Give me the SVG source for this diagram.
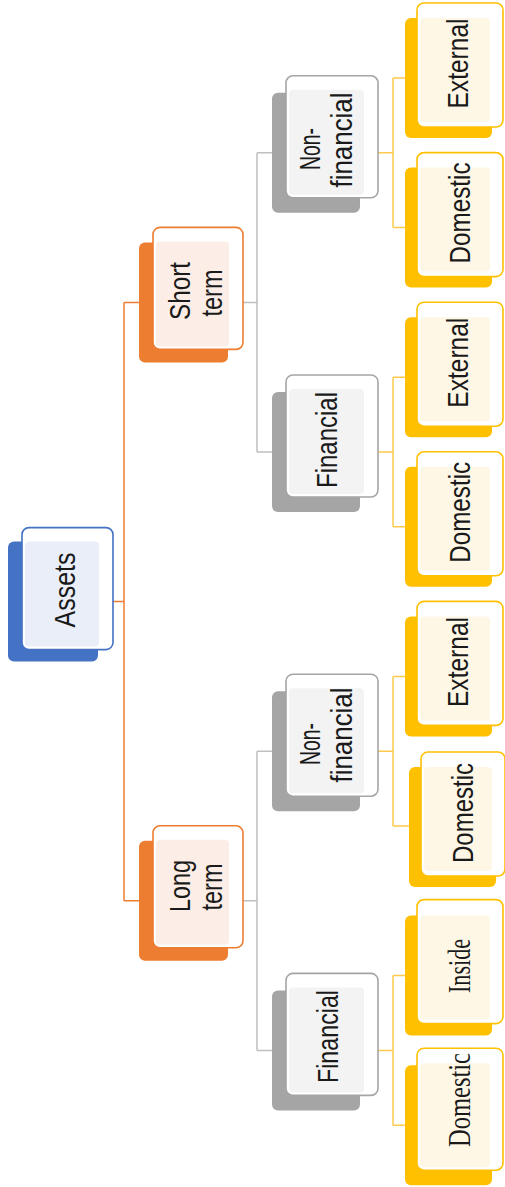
<svg xmlns="http://www.w3.org/2000/svg" width="505" height="1187" viewBox="0 0 505 1187">
<style>
.t{font-family:"Liberation Sans",Arial,sans-serif;font-size:30px;fill:#1a1a1a;text-anchor:middle}
.s{font-family:"Liberation Serif","Times New Roman",serif;font-size:32px}
.fr{fill:#ffffff;stroke-width:1.6}
.blue .sh{fill:#4472C4}.blue .fr{stroke:#4472C4}.blue .ti{fill:#E9EEF8}
.orange .sh{fill:#ED7D31}.orange .fr{stroke:#ED7D31}.orange .ti{fill:#FCEEE6}
.gray .sh{fill:#A5A5A5}.gray .fr{stroke:#A5A5A5}.gray .ti{fill:#F3F3F3}
.yellow .sh{fill:#FFC000}.yellow .fr{stroke:#FFC000}.yellow .ti{fill:#FFF7E6}
.c{fill:none;stroke-width:1.5}
.co{stroke:#ED7D31}.cg{stroke:#BFBFBF}.cy{stroke:#FFC94D}
</style>
<g id="connectors">
<path class="c co" d="M113,601.6H124M124,302.4V900.8M124,302.4H139M124,900.8H139"/>
<path class="c cg" d="M243,302.4H257M257,152.8V452M257,152.8H272M257,452H272"/>
<path class="c cg" d="M243,900.8H257M257,751.2V1050.4M257,751.2H272M257,1050.4H272"/>
<path class="c cy" d="M378,152.8H393M393,78V227.6M393,78H405M393,227.6H405"/>
<path class="c cy" d="M378,452H393M393,377.2V526.8M393,377.2H405M393,526.8H405"/>
<path class="c cy" d="M378,751.2H393M393,676.4V826M393,676.4H405M393,826H409"/>
<path class="c cy" d="M378,1050.4H393M393,975.6V1125.2M393,975.6H405M393,1125.2H405"/>
</g>
<g id="n-assets" class="blue">
<rect class="sh" x="8" y="541.6" width="90" height="120" rx="6"/>
<rect class="fr" x="22" y="527.6" width="91" height="122" rx="7"/>
<rect class="ti" x="25" y="541.6" width="74" height="105" rx="4"/>
<text class="t" transform="translate(75,590) rotate(-90)" textLength="75" lengthAdjust="spacingAndGlyphs">Assets</text>
</g>
<g id="n-short" class="orange">
<rect class="sh" x="139" y="242.4" width="89" height="120" rx="6"/>
<rect class="fr" x="153" y="227.4" width="90" height="122" rx="7"/>
<rect class="ti" x="156" y="241.4" width="73" height="105" rx="4"/>
<text class="t" transform="translate(190,291) rotate(-90)" textLength="58" lengthAdjust="spacingAndGlyphs">Short</text>
<text class="t" transform="translate(222,293) rotate(-90)" textLength="47" lengthAdjust="spacingAndGlyphs">term</text>
</g>
<g id="n-long" class="orange">
<rect class="sh" x="139" y="840.8" width="89" height="120" rx="6"/>
<rect class="fr" x="153" y="825.8" width="90" height="122" rx="7"/>
<rect class="ti" x="156" y="839.8" width="73" height="105" rx="4"/>
<text class="t" transform="translate(190,886) rotate(-90)" textLength="52" lengthAdjust="spacingAndGlyphs">Long</text>
<text class="t" transform="translate(222,887) rotate(-90)" textLength="47" lengthAdjust="spacingAndGlyphs">term</text>
</g>
<g id="n-st-nonfin" class="gray">
<rect class="sh" x="272" y="92.8" width="88" height="120" rx="6"/>
<rect class="fr" x="286" y="75.8" width="92" height="122" rx="7"/>
<rect class="ti" x="289" y="89.8" width="75" height="105" rx="4"/>
<text class="t" transform="translate(320,149) rotate(-90)" textLength="42" lengthAdjust="spacingAndGlyphs">Non-</text>
<text class="t" transform="translate(352,140) rotate(-90)" textLength="95" lengthAdjust="spacingAndGlyphs">financial</text>
</g>
<g id="n-st-fin" class="gray">
<rect class="sh" x="272" y="392" width="88" height="120" rx="6"/>
<rect class="fr" x="286" y="375" width="92" height="122" rx="7"/>
<rect class="ti" x="289" y="389" width="75" height="105" rx="4"/>
<text class="t" transform="translate(337,440) rotate(-90)" textLength="96" lengthAdjust="spacingAndGlyphs">Financial</text>
</g>
<g id="n-lt-nonfin" class="gray">
<rect class="sh" x="272" y="691.2" width="88" height="120" rx="6"/>
<rect class="fr" x="286" y="674.2" width="92" height="122" rx="7"/>
<rect class="ti" x="289" y="688.2" width="75" height="105" rx="4"/>
<text class="t" transform="translate(320,744) rotate(-90)" textLength="42" lengthAdjust="spacingAndGlyphs">Non-</text>
<text class="t" transform="translate(352,735) rotate(-90)" textLength="95" lengthAdjust="spacingAndGlyphs">financial</text>
</g>
<g id="n-lt-fin" class="gray">
<rect class="sh" x="272" y="990.4" width="88" height="120" rx="6"/>
<rect class="fr" x="286" y="973.4" width="92" height="122" rx="7"/>
<rect class="ti" x="289" y="987.4" width="75" height="105" rx="4"/>
<text class="t" transform="translate(338,1036.5) rotate(-90)" textLength="93" lengthAdjust="spacingAndGlyphs">Financial</text>
</g>
<g id="n-st-nf-external" class="yellow">
<rect class="sh" x="405" y="18" width="87" height="120" rx="6"/>
<rect class="fr" x="417" y="3" width="86" height="124" rx="7"/>
<rect class="ti" x="420" y="18" width="70" height="104" rx="4"/>
<text class="t" transform="translate(468,63.5) rotate(-90)" textLength="90" lengthAdjust="spacingAndGlyphs">External</text>
</g>
<g id="n-st-nf-domestic" class="yellow">
<rect class="sh" x="405" y="167.6" width="87" height="120" rx="6"/>
<rect class="fr" x="417" y="152.6" width="86" height="124" rx="7"/>
<rect class="ti" x="420" y="167.6" width="70" height="104" rx="4"/>
<text class="t" transform="translate(470,213) rotate(-90)" textLength="101" lengthAdjust="spacingAndGlyphs">Domestic</text>
</g>
<g id="n-st-f-external" class="yellow">
<rect class="sh" x="405" y="317.2" width="87" height="120" rx="6"/>
<rect class="fr" x="417" y="302.2" width="86" height="124" rx="7"/>
<rect class="ti" x="420" y="317.2" width="70" height="104" rx="4"/>
<text class="t" transform="translate(468,362.7) rotate(-90)" textLength="90" lengthAdjust="spacingAndGlyphs">External</text>
</g>
<g id="n-st-f-domestic" class="yellow">
<rect class="sh" x="405" y="466.8" width="87" height="120" rx="6"/>
<rect class="fr" x="417" y="451.8" width="86" height="124" rx="7"/>
<rect class="ti" x="420" y="466.8" width="70" height="104" rx="4"/>
<text class="t" transform="translate(470,512.3) rotate(-90)" textLength="101" lengthAdjust="spacingAndGlyphs">Domestic</text>
</g>
<g id="n-lt-nf-external" class="yellow">
<rect class="sh" x="405" y="616.4" width="87" height="120" rx="6"/>
<rect class="fr" x="417" y="601.4" width="86" height="124" rx="7"/>
<rect class="ti" x="420" y="616.4" width="70" height="104" rx="4"/>
<text class="t" transform="translate(468,662) rotate(-90)" textLength="90" lengthAdjust="spacingAndGlyphs">External</text>
</g>
<g id="n-lt-nf-domestic" class="yellow">
<rect class="sh" x="409" y="767" width="87" height="120" rx="6"/>
<rect class="fr" x="421" y="752" width="84" height="124" rx="7"/>
<rect class="ti" x="424" y="767" width="68" height="104" rx="4"/>
<text class="t" transform="translate(473,813) rotate(-90)" textLength="100" lengthAdjust="spacingAndGlyphs">Domestic</text>
</g>
<g id="n-lt-f-inside" class="yellow">
<rect class="sh" x="405" y="915.6" width="87" height="120" rx="6"/>
<rect class="fr" x="417" y="899.6" width="86" height="124" rx="7"/>
<rect class="ti" x="420" y="915.6" width="70" height="104" rx="4"/>
<text class="t s" transform="translate(470,966) rotate(-90)" textLength="54" lengthAdjust="spacingAndGlyphs">Inside</text>
</g>
<g id="n-lt-f-domestic" class="yellow">
<rect class="sh" x="405" y="1065.2" width="87" height="120" rx="6"/>
<rect class="fr" x="417" y="1048.2" width="86" height="122" rx="7"/>
<rect class="ti" x="420" y="1063.2" width="70" height="104" rx="4"/>
<text class="t s" transform="translate(470,1100) rotate(-90)" textLength="94" lengthAdjust="spacingAndGlyphs">Domestic</text>
</g>
</svg>
